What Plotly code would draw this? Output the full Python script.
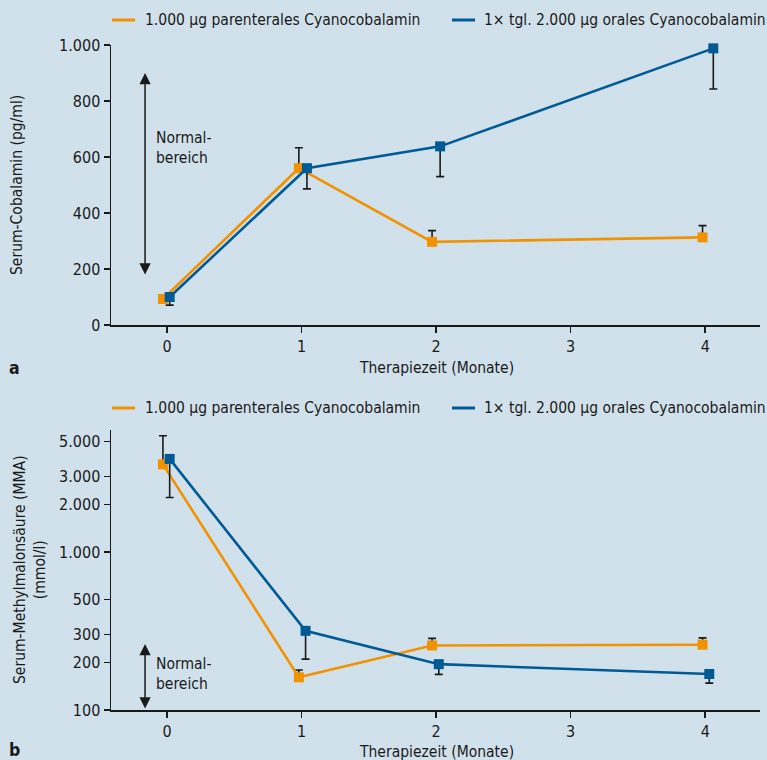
import math
import plotly.graph_objects as go
from plotly.subplots import make_subplots

# ---------------- data ----------------
series_names = ["1.000 µg parenterales Cyanocobalamin", "1× tgl. 2.000 µg orales Cyanocobalamin"]
months_tick_vals = [0, 1, 2, 3, 4]
months_tick_text = ["0", "1", "2", "3", "4"]

# panel a: Serum-Cobalamin (pg/ml)
a_orange_x = [-0.03, 0.98, 1.97, 3.98]
a_orange_y = [93, 560, 297, 313]
a_orange_err_up = [0, 73, 40, 42]
a_blue_x = [0.02, 1.04, 2.03, 4.06]
a_blue_y = [100, 560, 638, 988]
a_blue_err_down = [29, 74, 108, 145]
a_tick_vals = [0, 200, 400, 600, 800, 1000]
a_tick_text = ["0", "200", "400", "600", "800", "1.000"]
a_normal_range = [175, 900]

# panel b: Serum-Methylmalonsäure (mmol/l), log scale
b_orange_x = [-0.03, 0.98, 1.97, 3.98]
b_orange_y = [3585, 161, 256, 259]
b_orange_err_up = [1852, 18, 28, 27]
b_blue_x = [0.02, 1.03, 2.02, 4.03]
b_blue_y = [3882, 317, 195, 169]
b_blue_err_down = [1669, 107, 27, 21]
b_tick_vals = [100, 200, 300, 500, 1000, 2000, 3000, 5000]
b_tick_text = ["100", "200", "300", "500", "1.000", "2.000", "3.000", "5.000"]
b_normal_range = [100, 262]

# ---------------- style ----------------
ORANGE = "#F39200"
BLUE = "#005A96"
BG = "#D1E1EB"
INK = "#1a1a1a"
FONT = "DejaVu Sans Condensed, DejaVu Sans, sans-serif"
FS = 15.5
TFS = 16

W, H = 767, 760
ML, MR, MT, MB = 111, 7, 45, 50
PW, PH = W - ML - MR, H - MT - MB


def px_x(px):
    return (px - ML) / PW


def px_y(py):
    return (H - MB - py) / PH


fig = make_subplots(rows=2, cols=1)
fig.update_layout(
    yaxis=dict(domain=[px_y(325), 1.0]),
    yaxis2=dict(domain=[0.0, px_y(430)]),
)


def add_series(x, y, color, plus, minus, row):
    fig.add_trace(
        go.Scatter(
            x=x, y=y, mode="lines+markers",
            line=dict(color=color, width=2.6),
            marker=dict(symbol="square", size=10, color=color),
            error_y=dict(type="data", symmetric=False, array=plus, arrayminus=minus,
                         color=INK, thickness=1.6, width=4),
            cliponaxis=False, showlegend=False,
        ),
        row=row, col=1,
    )


add_series(a_orange_x, a_orange_y, ORANGE, a_orange_err_up, [0] * 4, 1)
add_series(a_blue_x, a_blue_y, BLUE, [0] * 4, a_blue_err_down, 1)
add_series(b_orange_x, b_orange_y, ORANGE, b_orange_err_up, [0] * 4, 2)
add_series(b_blue_x, b_blue_y, BLUE, [0] * 4, b_blue_err_down, 2)

axis_common = dict(
    showline=True, linecolor=INK, linewidth=1.5,
    ticks="outside", ticklen=6, tickwidth=1.5, tickcolor=INK,
    showgrid=False, zeroline=False,
    tickfont=dict(family=FONT, size=TFS, color=INK),
)
xr = [-0.416, 4.407]
fig.update_xaxes(range=xr, tickvals=months_tick_vals, ticktext=months_tick_text, **axis_common)
fig.update_yaxes(range=[0, 1000], tickvals=a_tick_vals, ticktext=a_tick_text, row=1, col=1, **axis_common)
fig.update_yaxes(type="log", range=[2, 3.772], tickvals=b_tick_vals, ticktext=b_tick_text,
                 row=2, col=1, **axis_common)

ann = []
shapes = []

# legends (manual, one per panel)
for ly in (20, 408):
    for (x0, x1, tx, color, name) in ((112, 135, 143, ORANGE, series_names[0]),
                                      (452, 475, 482, BLUE, series_names[1])):
        shapes.append(dict(type="line", xref="paper", yref="paper",
                           x0=px_x(x0), x1=px_x(x1), y0=px_y(ly), y1=px_y(ly),
                           line=dict(color=color, width=3)))
        ann.append(dict(text=name, xref="paper", yref="paper", x=px_x(tx), y=px_y(ly),
                        xanchor="left", yanchor="middle", showarrow=False,
                        font=dict(family=FONT, size=FS, color=INK)))

# axis titles
for ty in (368, 752):
    ann.append(dict(text="Therapiezeit (Monate)", xref="paper", yref="paper",
                    x=px_x(436), y=px_y(ty), xanchor="center", yanchor="middle",
                    showarrow=False, font=dict(family=FONT, size=FS, color=INK)))
ann.append(dict(text="Serum-Cobalamin (pg/ml)", xref="paper", yref="paper",
                x=px_x(17), y=px_y(185), textangle=-90, xanchor="center", yanchor="middle",
                showarrow=False, font=dict(family=FONT, size=FS, color=INK)))
ann.append(dict(text="Serum-Methylmalonsäure (MMA)<br>(mmol/l)", xref="paper", yref="paper",
                x=px_x(30), y=px_y(570), textangle=-90, xanchor="center", yanchor="middle",
                showarrow=False, font=dict(family=FONT, size=FS, color=INK)))

# panel letters
ann.append(dict(text="<b>a</b>", xref="paper", yref="paper", x=px_x(14), y=px_y(368),
                xanchor="center", yanchor="middle", showarrow=False,
                font=dict(family=FONT, size=FS + 2, color=INK)))
ann.append(dict(text="<b>b</b>", xref="paper", yref="paper", x=px_x(14), y=px_y(750),
                xanchor="center", yanchor="middle", showarrow=False,
                font=dict(family=FONT, size=FS + 2, color=INK)))

# Normalbereich arrows and labels
arrow_x = -0.163
ann.append(dict(text="", x=arrow_x, y=a_normal_range[1], ax=arrow_x, ay=a_normal_range[0],
                xref="x", yref="y", axref="x", ayref="y", showarrow=True,
                arrowside="end+start", arrowhead=2, arrowsize=1.5, arrowwidth=1.5, arrowcolor=INK))
ann.append(dict(text="Normal-<br>bereich", x=-0.097, y=632, xref="x", yref="y",
                xanchor="left", yanchor="middle", align="left", showarrow=False,
                font=dict(family=FONT, size=FS, color=INK)))
ann.append(dict(text="", x=arrow_x, y=math.log10(b_normal_range[1]), ax=arrow_x,
                ay=math.log10(b_normal_range[0]),
                xref="x2", yref="y2", axref="x2", ayref="y2", showarrow=True,
                arrowside="end+start", arrowhead=2, arrowsize=1.5, arrowwidth=1.5, arrowcolor=INK))
ann.append(dict(text="Normal-<br>bereich", x=-0.097, y=math.log10(170), xref="x2", yref="y2",
                xanchor="left", yanchor="middle", align="left", showarrow=False,
                font=dict(family=FONT, size=FS, color=INK)))

fig.update_layout(
    width=W, height=H,
    margin=dict(l=ML, r=MR, t=MT, b=MB),
    paper_bgcolor=BG, plot_bgcolor=BG,
    font=dict(family=FONT, size=FS, color=INK),
    showlegend=False,
    hovermode=False,
    annotations=ann, shapes=shapes,
)

fig.write_html(
    "out.html",
    config={"displayModeBar": False, "staticPlot": True},
    post_script="document.body.style.margin='0';document.body.style.background='%s';" % BG,
)
